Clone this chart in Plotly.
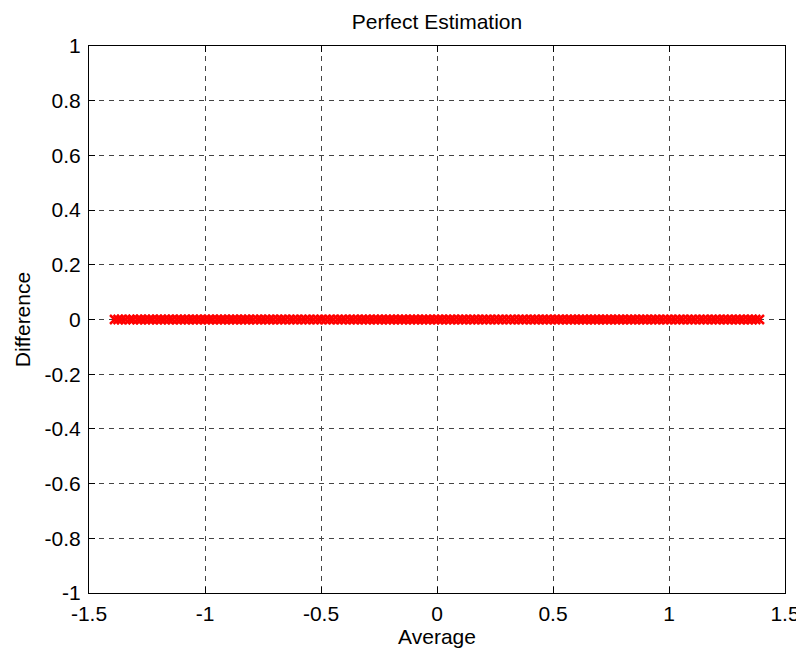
import plotly.graph_objects as go

# Average values (x) of the Bland-Altman style plot
average = [-1.39, -1.375, -1.36, -1.342, -1.325, -1.31, -1.292, -1.276, -1.258, -1.241,
           -1.225, -1.207, -1.19, -1.173, -1.156, -1.139, -1.121, -1.104, -1.087, -1.07,
           -1.052, -1.035, -1.018, -1.0, -0.983, -0.966, -0.948, -0.931, -0.914, -0.896,
           -0.879, -0.862, -0.844, -0.827, -0.81, -0.792, -0.775, -0.758, -0.74, -0.723,
           -0.706, -0.688, -0.671, -0.654, -0.636, -0.619, -0.602, -0.584, -0.567, -0.55,
           -0.532, -0.515, -0.498, -0.48, -0.463, -0.446, -0.428, -0.411, -0.394, -0.376,
           -0.359, -0.342, -0.324, -0.307, -0.29, -0.272, -0.255, -0.238, -0.22, -0.203,
           -0.186, -0.168, -0.151, -0.134, -0.116, -0.099, -0.082, -0.064, -0.047, -0.03,
           -0.012, 0.005, 0.022, 0.04, 0.057, 0.074, 0.092, 0.109, 0.126, 0.144,
           0.161, 0.178, 0.196, 0.213, 0.23, 0.248, 0.265, 0.282, 0.3, 0.317,
           0.334, 0.352, 0.369, 0.386, 0.404, 0.421, 0.438, 0.456, 0.473, 0.49,
           0.508, 0.525, 0.542, 0.56, 0.577, 0.594, 0.612, 0.629, 0.646, 0.664,
           0.681, 0.698, 0.716, 0.733, 0.75, 0.768, 0.785, 0.802, 0.82, 0.837,
           0.854, 0.872, 0.889, 0.906, 0.924, 0.941, 0.958, 0.976, 0.993, 1.01,
           1.028, 1.045, 1.062, 1.08, 1.097, 1.114, 1.132, 1.149, 1.166, 1.184,
           1.201, 1.218, 1.236, 1.253, 1.27, 1.288, 1.305, 1.322, 1.34, 1.357,
           1.374, 1.39]
# Difference values (y): perfect estimation -> all zero
difference = [0.0] * len(average)

x_ticks = [-1.5, -1, -0.5, 0, 0.5, 1, 1.5]
x_tick_labels = ["-1.5", "-1", "-0.5", "0", "0.5", "1", "1.5"]
y_ticks = [-1, -0.8, -0.6, -0.4, -0.2, 0, 0.2, 0.4, 0.6, 0.8, 1]
y_tick_labels = ["-1", "-0.8", "-0.6", "-0.4", "-0.2", "0", "0.2", "0.4", "0.6", "0.8", "1"]

FONT = "Liberation Sans, Arial, Helvetica, sans-serif"
FS = 21
W, H = 796, 641   # page body has an 8px margin

fig = go.Figure()
fig.add_trace(go.Scatter(
    x=average, y=difference, mode="markers",
    marker=dict(symbol="x-thin", size=9, color="red",
                line=dict(color="red", width=2.5)),
    showlegend=False, cliponaxis=False,
))

axis_common = dict(
    showline=True, linecolor="black", linewidth=1, mirror="ticks",
    ticks="inside", ticklen=6, tickcolor="black", tickwidth=1,
    showgrid=True, gridcolor="#444444", gridwidth=1, griddash="5px,5px",
    zeroline=False, automargin=False,
    tickfont=dict(family=FONT, size=FS, color="black"),
)

fig.update_layout(
    width=W, height=H,
    margin=dict(l=81, r=19, t=38, b=56),
    paper_bgcolor="white", plot_bgcolor="white",
    font=dict(family=FONT, size=FS, color="black"),
    title=dict(text="Perfect Estimation", x=(437 - 8) / W, xanchor="center",
               y=1 - (22 - 8) / H, yanchor="middle", yref="container",
               automargin=False,
               font=dict(family=FONT, size=FS, color="black")),
    xaxis=dict(range=[-1.5, 1.5], tickvals=x_ticks, ticktext=x_tick_labels,
               ticklabelstandoff=2,
               title=dict(text="Average", standoff=2,
                          font=dict(family=FONT, size=FS, color="black")),
               **axis_common),
    yaxis=dict(range=[-1, 1], tickvals=y_ticks, ticktext=y_tick_labels,
               ticklabelstandoff=3,
               title=dict(text="Difference", standoff=8,
                          font=dict(family=FONT, size=FS, color="black")),
               **axis_common),
)

fig.write_html("out.html")
